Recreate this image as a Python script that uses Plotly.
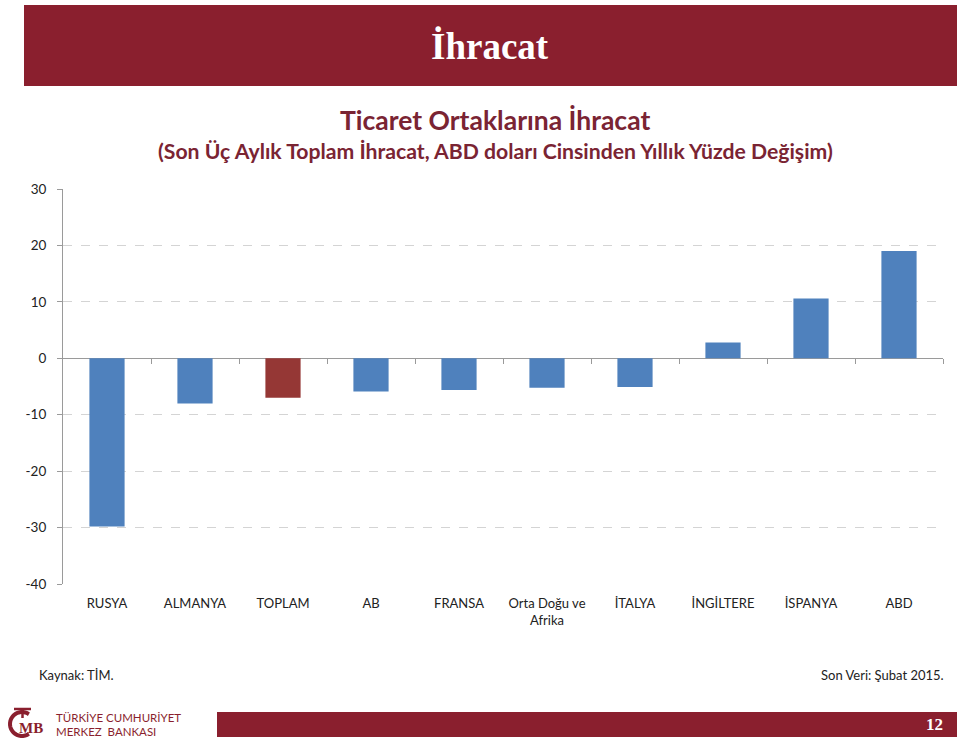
import math
import plotly.graph_objects as go

categories = ["RUSYA", "ALMANYA", "TOPLAM", "AB", "FRANSA", "Orta Doğu ve<br>Afrika",
              "İTALYA", "İNGİLTERE", "İSPANYA", "ABD"]
values = [-29.8, -8.0, -7.0, -5.9, -5.6, -5.2, -5.1, 2.8, 10.6, 19.0]
y_ticks = [-40, -30, -20, -10, 0, 10, 20, 30]
y_tick_labels = ["-40", "-30", "-20", "-10", "0", "10", "20", "30"]
highlight = "TOPLAM"

W, H = 960, 745
L, R, T, B = 63, 943, 189, 584  # plot area in pixels
YMIN, YMAX = -40, 30

BLUE = "#4F81BD"
RED = "#953735"
MAROON = "#8A1F2E"
TITLE_COL = "#7A2433"

def px(x):
    return (x - L) / (R - L)

def py(y):
    return (B - y) / (B - T)

colors = [RED if c == highlight else BLUE for c in categories]

fig = go.Figure()
fig.add_trace(go.Bar(x=list(range(len(categories))), y=values, marker_color=colors,
                     marker_line_width=0, width=0.4, hoverinfo="x+y"))

font_main = "Lato, 'Open Sans', sans-serif"

fig.update_layout(
    width=W, height=H,
    margin=dict(l=L, r=W - R, t=T, b=H - B, pad=0),
    paper_bgcolor="white", plot_bgcolor="white",
    showlegend=False,
    font=dict(family=font_main, size=13, color="#222"),
    xaxis=dict(
        range=[-0.5, len(categories) - 0.5],
        tickmode="array", tickvals=list(range(len(categories))), ticktext=categories,
        showline=False, showgrid=False, zeroline=False,
        ticks="outside", ticklen=7, tickcolor="rgba(0,0,0,0)",
        tickfont=dict(size=13, color="#222"),
        fixedrange=True,
    ),
    xaxis2=dict(
        range=[-0.5, len(categories) - 0.5], overlaying="x", anchor="free",
        position=(0 - YMIN) / (YMAX - YMIN),
        tickmode="array", tickvals=[i + 0.5 for i in range(len(categories))],
        ticks="outside", ticklen=5, tickcolor="#9a9a9a", showticklabels=False,
        showline=False, showgrid=False, zeroline=False, fixedrange=True,
    ),
    yaxis=dict(
        range=[YMIN, YMAX], tickmode="array", tickvals=y_ticks, ticktext=y_tick_labels,
        ticks="outside", ticklen=5, tickcolor="#9a9a9a", ticklabelstandoff=8,
        showline=True, linecolor="#9a9a9a", linewidth=1,
        showgrid=True, gridcolor="#d4d4d4", griddash="dash", gridwidth=1,
        zeroline=True, zerolinecolor="#9a9a9a", zerolinewidth=1,
        tickfont=dict(size=13.5, color="#222"),
        fixedrange=True,
    ),
)

# invisible trace to activate the crossing-axis tick marks
fig.add_trace(go.Scatter(x=[0], y=[0], xaxis="x2", mode="markers",
                         marker=dict(opacity=0), hoverinfo="skip"))

# logo "C" arc (decoration)
cx, cy, rr = 22, 724, 12
pts = [(cx + rr * math.cos(math.radians(a)), cy - rr * math.sin(math.radians(a)))
       for a in range(55, 306, 10)]
arc = "M " + " L ".join(f"{px(x):.5f},{py(y):.5f}" for x, y in pts)

shapes = [
    # top banner
    dict(type="rect", xref="paper", yref="paper", x0=px(24), x1=px(957), y0=py(86), y1=py(5),
         fillcolor=MAROON, line=dict(width=0), layer="below"),
    # footer bar
    dict(type="rect", xref="paper", yref="paper", x0=px(217), x1=px(957), y0=py(737), y1=py(712),
         fillcolor=MAROON, line=dict(width=0), layer="below"),
    dict(type="path", xref="paper", yref="paper", path=arc, line=dict(color=MAROON, width=4)),
    dict(type="line", xref="paper", yref="paper", x0=px(14), x1=px(31), y0=py(709), y1=py(709),
         line=dict(color=MAROON, width=2.5)),
    dict(type="line", xref="paper", yref="paper", x0=px(22.5), x1=px(22.5), y0=py(709), y1=py(718),
         line=dict(color=MAROON, width=2.5)),
]
fig.update_layout(shapes=shapes)

ann = [
    dict(text="<b>İhracat</b>", x=px(490), y=py(46), font=dict(family="'Liberation Serif', serif", size=37, color="white")),
    dict(text="<b>Ticaret Ortaklarına İhracat</b>", x=px(495), y=py(120),
         font=dict(family=font_main, size=26.5, color=TITLE_COL)),
    dict(text="<b>(Son Üç Aylık Toplam İhracat, ABD doları Cinsinden Yıllık Yüzde Değişim)</b>", x=px(495), y=py(151),
         font=dict(family=font_main, size=21.2, color=TITLE_COL)),
    dict(text="Kaynak: TİM.", x=px(37), y=py(675), xanchor="left",
         font=dict(family=font_main, size=13, color="#222")),
    dict(text="Son Veri: Şubat 2015.", x=px(946), y=py(675), xanchor="right",
         font=dict(family=font_main, size=13, color="#222")),
    dict(text="<b>12</b>", x=px(934), y=py(724), font=dict(family="'Liberation Serif', serif", size=17, color="white")),
    dict(text="TÜRKİYE CUMHURİYET", x=px(54), y=py(717), xanchor="left",
         font=dict(family="Lato, sans-serif", size=11.5, color=MAROON)),
    dict(text="MERKEZ  BANKASI", x=px(54), y=py(731), xanchor="left",
         font=dict(family="Lato, sans-serif", size=11.5, color=MAROON)),
    dict(text="<b>MB</b>", x=px(31), y=py(728), font=dict(family="'Liberation Serif', serif", size=15, color=MAROON)),
]
for a in ann:
    a.update(xref="paper", yref="paper", showarrow=False)
    a.setdefault("xanchor", "center")
    a.setdefault("yanchor", "middle")
fig.update_layout(annotations=ann)

fig.write_html("out.html", config={"displayModeBar": False},
               post_script="document.body.style.margin='0px';")
